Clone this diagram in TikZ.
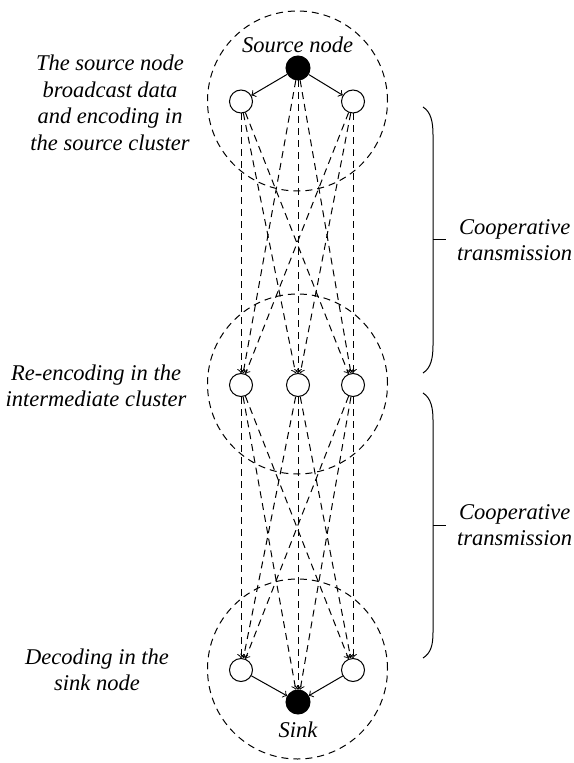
\documentclass[tikz,border=0pt]{standalone}
\usepackage{fontspec}
\setmainfont{Liberation Serif}
\usetikzlibrary{arrows, positioning}

\begin{document}
\begin{tikzpicture}[x=0.5pt, y=-0.5pt, line width=0.5pt, >=to,
                                sensor/.style={circle, draw, fill=white, minimum size=11.5pt, inner sep=0pt},
                                terminal/.style={circle, draw, fill=black, minimum size=12pt, inner sep=0pt},
                                cluster/.style={circle, draw, dash pattern=on 3.5pt off 2.5pt, minimum size=90pt, inner sep=0pt},
                                coop/.style={->, dash pattern=on 3.5pt off 2.5pt},
                                lbl/.style={font=\fontsize{11.25}{13.25}\selectfont\itshape, align=center}]
                                \useasboundingbox (0,0) rectangle (573,763);

                                % clusters
                                \node[cluster] (srccl) at (297.5, 101) {};
                                \node[cluster] (midcl) at (297.5, 384) {};
                                \node[cluster] (sinkcl) at (297.5, 669) {};

                                % source cluster
                                \node[terminal] (src) at (298, 68) {};
                                \node[sensor] (tl) at (241, 101.5) {};
                                \node[sensor] (tr) at (353, 101.5) {};

                                % intermediate cluster
                                \node[sensor] (ml) at (241, 385) {};
                                \node[sensor] (mm) at (298, 385) {};
                                \node[sensor] (mr) at (353, 385) {};

                                % sink cluster
                                \node[sensor] (bl) at (241, 670) {};
                                \node[sensor] (br) at (353, 670) {};
                                \node[terminal] (sink) at (298, 702) {};

                                \node[lbl] (srclbl) at (297.5, 45) {Source node};
                                \node[lbl] (sinklbl) at (298, 730) {Sink};
                                \node[lbl] (step1) at (110, 103) {The source node\\broadcast data\\and encoding in\\the source cluster};
                                \node[lbl] (step2) at (96, 386) {Re-encoding in the\\intermediate cluster};
                                \node[lbl] (step3) at (97, 670) {Decoding in the\\sink node};

                                \draw
                                (src) edge[->] (tl)
                                (src) edge[->] (tr)
                                (bl) edge[->] (sink)
                                (br) edge[->] (sink);

                                \draw
                                (tl) edge[coop] (ml)
                                (tl) edge[coop] (mm)
                                (tl) edge[coop] (mr)
                                (src) edge[coop] (ml)
                                (src) edge[coop] (mm)
                                (src) edge[coop] (mr)
                                (tr) edge[coop] (ml)
                                (tr) edge[coop] (mm)
                                (tr) edge[coop] (mr);

                                \draw
                                (ml) edge[coop] (bl)
                                (ml) edge[coop] (sink)
                                (ml) edge[coop] (br)
                                (mm) edge[coop] (bl)
                                (mm) edge[coop] (sink)
                                (mm) edge[coop] (br)
                                (mr) edge[coop] (bl)
                                (mr) edge[coop] (sink)
                                (mr) edge[coop] (br);

                                % braces
                                \coordinate (tip1) at (446, 240);
                                \coordinate (tip2) at (446, 525);
                                \draw (423,107) .. controls (431,112) and (433,122) .. (433,135) -- (433,345)
                                .. controls (433,358) and (431,368) .. (423,373);
                                \draw (433,240) -- (tip1);
                                \draw (423,393) .. controls (431,398) and (433,408) .. (433,420) -- (433,632)
                                .. controls (433,645) and (431,653) .. (423,658);
                                \draw (433,525) -- (tip2);

                                \node[lbl, right=2pt of tip1] (coop1) {Cooperative\\transmission};
                                \node[lbl, right=2pt of tip2] (coop2) {Cooperative\\transmission};
                            \end{tikzpicture}
\end{document}
